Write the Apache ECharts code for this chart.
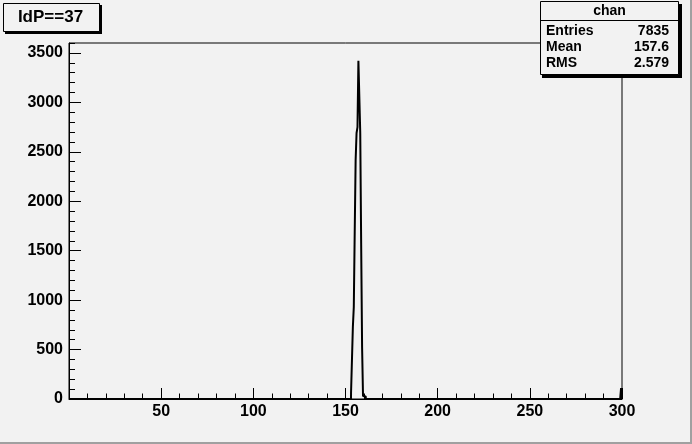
<!DOCTYPE html>
<html><head><meta charset="utf-8">
<script src="https://cdn.jsdelivr.net/npm/echarts@6/dist/echarts.min.js"></script>
<style>html,body{margin:0;padding:0;background:#f2f2f2;} #c{width:692px;height:444px;}</style>
</head><body><div id="c"></div>
<script>
// ---- data ----
const binWidth = 0.5;
const binLow   = [153.0, 153.5, 154.0, 154.5, 155.0, 155.5, 156.0, 156.5, 157.0, 157.5, 158.0, 158.5, 159.0, 159.5, 160.0, 160.5, 299.5];
const binCount = [60,    395,   730,   930,   1690,  2420,  2690,  2750,  3420,  3400,  2690,  1560,  525,   30,    30,    25,    110];
const xMin = 0, xMax = 300, yMin = 0, yMax = 3600;
const xTickLabels = [50, 100, 150, 200, 250, 300];
const yTickLabels = [0, 500, 1000, 1500, 2000, 2500, 3000, 3500];
const titleText = 'IdP==37';
const statsName = 'chan';
const statsLabels = ['Entries', 'Mean', 'RMS'];
const statsValues = ['7835', '157.6', '2.579'];

// ---- build histogram step data ----
const nBins = Math.round((xMax - xMin) / binWidth);
const counts = new Array(nBins).fill(0);
binLow.forEach((b, k) => { counts[Math.round((b - xMin) / binWidth)] = binCount[k]; });
const pts = counts.map((c, i) => [xMin + i * binWidth, c]);
pts.push([xMax, 0]);

const FONT = 'Liberation Sans';
const BG = '#f2f2f2';
const chart = echarts.init(document.getElementById('c'), null, {renderer: 'canvas'});

const graphics = [
  // canvas bevel
  {type: 'rect', shape: {x: 0, y: 442, width: 692, height: 2}, style: {fill: '#a0a0a0'}, z: 100},
  {type: 'rect', shape: {x: 690, y: 0, width: 2, height: 444}, style: {fill: '#a0a0a0'}, z: 100},
  // title box
  {type: 'rect', shape: {x: 5, y: 5, width: 97, height: 29}, style: {fill: '#000'}, z: 100},
  {type: 'rect', shape: {x: 3.5, y: 3.5, width: 96, height: 28}, style: {fill: BG, stroke: '#000', lineWidth: 1}, z: 101},
  {type: 'text', x: 50.5, y: 17.5, style: {text: titleText, font: 'bold 17px ' + FONT, fill: '#000', align: 'center', verticalAlign: 'middle'}, z: 102},
  // stats box
  {type: 'rect', shape: {x: 542, y: 4, width: 140, height: 74}, style: {fill: '#000'}, z: 100},
  {type: 'rect', shape: {x: 540.5, y: 1.5, width: 138, height: 73}, style: {fill: BG, stroke: '#000', lineWidth: 1}, z: 101},
  {type: 'line', shape: {x1: 540.5, y1: 20.5, x2: 678.5, y2: 20.5}, style: {stroke: '#000', lineWidth: 1}, z: 102},
  {type: 'text', x: 609.5, y: 11.5, style: {text: statsName, font: 'bold 14px ' + FONT, fill: '#000', align: 'center', verticalAlign: 'middle'}, z: 102}
];
statsLabels.forEach((lab, i) => {
  const y = 31 + i * 16.3;
  graphics.push({type: 'text', x: 546, y: y, style: {text: lab, font: 'bold 14px ' + FONT, fill: '#000', align: 'left', verticalAlign: 'middle'}, z: 102});
  graphics.push({type: 'text', x: 669, y: y, style: {text: statsValues[i], font: 'bold 14px ' + FONT, fill: '#000', align: 'right', verticalAlign: 'middle'}, z: 102});
});

const plain = v => String(v);

const option = {
  animation: false,
  backgroundColor: BG,
  grid: {left: 69, top: 43, width: 553, height: 356, show: true, borderColor: '#000', borderWidth: 1, backgroundColor: 'transparent', containLabel: false},
  xAxis: [
    {type: 'value', min: xMin, max: xMax, interval: 50, position: 'bottom',
     axisLine: {show: true, onZero: false, lineStyle: {color: '#000', width: 1}},
     axisTick: {show: true, inside: true, length: 11, lineStyle: {color: '#000', width: 1}},
     axisLabel: {show: true, customValues: xTickLabels, formatter: plain, margin: 5, color: '#000', fontFamily: FONT, fontWeight: 'bold', fontSize: 16},
     splitLine: {show: false}},
    {type: 'value', min: xMin, max: xMax, interval: 10, position: 'bottom',
     axisLine: {show: false}, axisLabel: {show: false}, splitLine: {show: false},
     axisTick: {show: true, inside: true, length: 5.5, lineStyle: {color: '#000', width: 1}}}
  ],
  yAxis: [
    {type: 'value', min: yMin, max: yMax, interval: 500, position: 'left',
     axisLine: {show: true, onZero: false, lineStyle: {color: '#000', width: 1}},
     axisTick: {show: true, inside: true, length: 12, customValues: yTickLabels, lineStyle: {color: '#000', width: 1}},
     axisLabel: {show: true, customValues: yTickLabels, formatter: plain, margin: 6, color: '#000', fontFamily: FONT, fontWeight: 'bold', fontSize: 16},
     splitLine: {show: false}},
    {type: 'value', min: yMin, max: yMax, interval: 100, position: 'left',
     axisLine: {show: false}, axisLabel: {show: false}, splitLine: {show: false},
     axisTick: {show: true, inside: true, length: 6, lineStyle: {color: '#000', width: 1}}}
  ],
  series: [{
    type: 'line', xAxisIndex: 0, yAxisIndex: 0, step: 'end', data: pts,
    showSymbol: false, symbol: 'none', clip: true,
    lineStyle: {color: '#000', width: 2}
  }],
  graphic: graphics
};
chart.setOption(option);
</script>
</body></html>
